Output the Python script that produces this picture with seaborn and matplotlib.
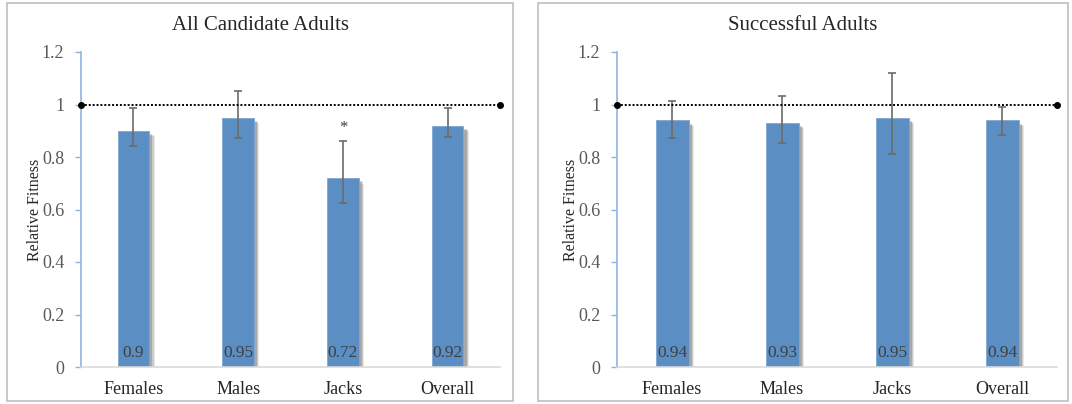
import pandas as pd
import seaborn as sns
from matplotlib import pyplot as plt
from matplotlib import patheffects as pe
from matplotlib.patches import Rectangle

# Dades
categories = ["Females", "Males", "Jacks", "Overall"]

titol_1 = "All Candidate Adults"
valors_1 = [0.90, 0.95, 0.72, 0.92]
superior_1 = [0.985, 1.053, 0.862, 0.985]
inferior_1 = [0.843, 0.874, 0.626, 0.875]
signif_1 = ["", "", "*", ""]

titol_2 = "Successful Adults"
valors_2 = [0.94, 0.93, 0.95, 0.94]
superior_2 = [1.015, 1.034, 1.12, 0.99]
inferior_2 = [0.871, 0.854, 0.81, 0.884]
signif_2 = ["", "", "", ""]

yticks = [0, 0.2, 0.4, 0.6, 0.8, 1.0, 1.2]
ytick_labels = ["0", "0.2", "0.4", "0.6", "0.8", "1", "1.2"]
referencia = 1.0

sns.set_theme(style="white")
plt.rcParams["font.family"] = ["Liberation Serif", "DejaVu Serif"]

blau = "#5B8EC2"
gris_text = "#595959"

fig = plt.figure(figsize=(10.72, 4.04), dpi=100)

# marcs dels panells (en px de la figura)
W, H = 1072, 404
for x0, x1 in [(7, 513), (538, 1068)]:
    fig.patches.append(Rectangle((x0 / W, 3 / H), (x1 - x0) / W, 398 / H,
                                 transform=fig.transFigure, fill=False,
                                 edgecolor="#BFBFBF", linewidth=1.2))

posicions = [(81, 419), (617, 440)]
panells = [
    (titol_1, valors_1, superior_1, inferior_1, signif_1, 260),
    (titol_2, valors_2, superior_2, inferior_2, signif_2, 803),
]

ombra = [pe.SimplePatchShadow(offset=(d, -d), shadow_rgbFace="#444444", alpha=a)
         for d, a in [(4.0, 0.12), (3.2, 0.18), (2.4, 0.25)]] + [pe.Normal()]

for (x_ax, w_ax), (titol, valors, sup, inf, signif, xt) in zip(posicions, panells):
    ax = fig.add_axes([x_ax / W, 37 / H, w_ax / W, 315 / H])
    df = pd.DataFrame({"cat": categories, "val": valors})
    sns.barplot(data=df, x="cat", y="val", color=blau, width=0.3,
                saturation=1, edgecolor="#7FA6D3", linewidth=0.6, ax=ax)
    for p in ax.patches:
        p.set_path_effects(ombra)

    err = [[v - i for v, i in zip(valors, inf)], [s - v for v, s in zip(valors, sup)]]
    ax.errorbar(range(len(categories)), valors, yerr=err, fmt="none",
                ecolor="#6b6b6b", elinewidth=1.2, capsize=3, capthick=1.2, zorder=4)

    # línia de referència
    ax.plot([-0.5, len(categories) - 0.5], [referencia, referencia], color="black",
            linestyle=(0, (1, 1)), linewidth=1.4, marker="o", markersize=4,
            clip_on=False, zorder=5)

    for i, v in enumerate(valors):
        ax.text(i, 0.052, f"{v:g}", ha="center", va="center", fontsize=12.5,
                color="#404040", zorder=6)
        if signif[i]:
            ax.text(i, sup[i] + 0.05, signif[i], ha="center", va="center",
                    fontsize=12, color="#404040")

    ax.set_xlim(-0.5, len(categories) - 0.5)
    ax.set_ylim(0, 1.2)
    ax.set_yticks(yticks)
    ax.set_yticklabels(ytick_labels)
    ax.set_xlabel("")
    ax.set_ylabel("Relative Fitness", fontsize=11.5, labelpad=-1)
    sns.despine(ax=ax)
    ax.spines["left"].set_color("#8EB4E3")
    ax.spines["left"].set_linewidth(1.2)
    ax.spines["bottom"].set_color("#D9D9D9")
    ax.spines["bottom"].set_linewidth(1.2)
    ax.tick_params(axis="y", left=True, length=4, width=1, color="#8EB4E3",
                   labelsize=13, labelcolor=gris_text, pad=8)
    ax.tick_params(axis="x", bottom=False, labelsize=13, labelcolor="#262626", pad=4)

    fig.text(xt / W, 1 - 25 / H, titol, ha="center", va="center", fontsize=15,
             color="#262626")

plt.savefig("out.png", dpi=100)
